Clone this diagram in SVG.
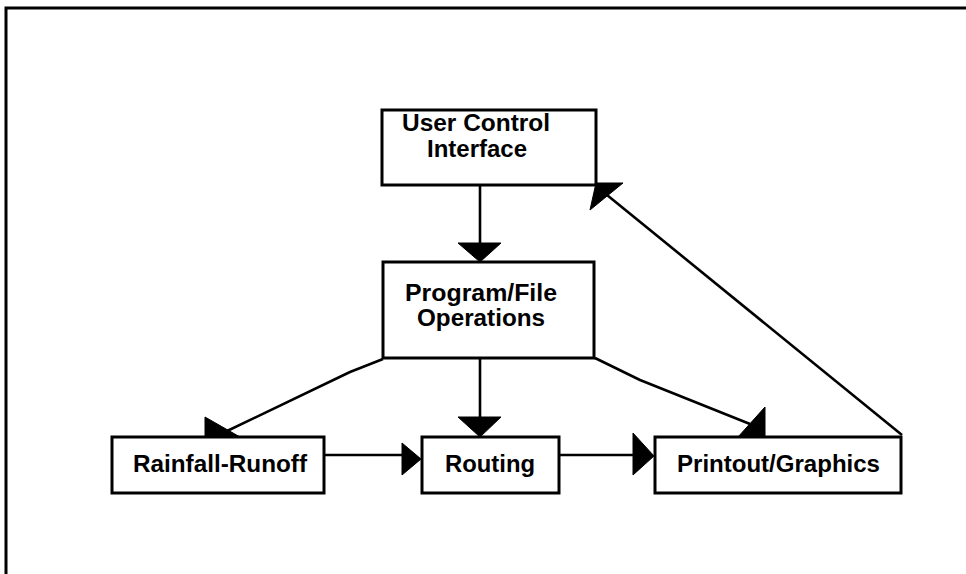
<svg xmlns="http://www.w3.org/2000/svg" width="966" height="574" viewBox="0 0 966 574">
<style>
.box{fill:#fff;stroke:#000;stroke-width:3}
.ln{fill:none;stroke:#000;stroke-width:2.6;stroke-linejoin:round}
.ah{fill:#000;stroke:#000;stroke-width:1}
text{font-family:"Liberation Sans",Arial,sans-serif;font-size:23px;font-weight:bold;fill:#000}
</style>
<rect width="966" height="574" fill="#fff"/>
<path d="M6,574 L6,8 L966,8" fill="none" stroke="#000" stroke-width="3"/>
<g id="connectors">
<line class="ln" x1="480" y1="185" x2="480" y2="244"/>
<polygon class="ah" points="458,243 501,243 480,262"/>
<polyline class="ln" points="383,359 350,372 225,432"/>
<polygon class="ah" points="205,417 205,437 240,437"/>
<line class="ln" x1="480" y1="359" x2="480" y2="418"/>
<polygon class="ah" points="458,417 501,417 480,437"/>
<polyline class="ln" points="595,358 640,380 750,424"/>
<polygon class="ah" points="738,437 765,407 765,437"/>
<line class="ln" x1="324" y1="455" x2="404" y2="455"/>
<polygon class="ah" points="402,443 402,475 421,459"/>
<line class="ln" x1="560" y1="455" x2="635" y2="455"/>
<polygon class="ah" points="633,433 633,475 654,456"/>
<line class="ln" x1="902" y1="435" x2="607" y2="195"/>
<polygon class="ah" points="590,210 596,183 623,183"/>
</g>
<g id="user-control-interface">
<rect class="box" x="382" y="110" width="214" height="75"/>
<text x="402" y="131" textLength="148" lengthAdjust="spacingAndGlyphs">User Control</text>
<text x="427" y="157" textLength="100" lengthAdjust="spacingAndGlyphs">Interface</text>
</g>
<g id="program-file-operations">
<rect class="box" x="383" y="262" width="211" height="96"/>
<text x="405" y="301" textLength="152" lengthAdjust="spacingAndGlyphs">Program/File</text>
<text x="417" y="326" textLength="128" lengthAdjust="spacingAndGlyphs">Operations</text>
</g>
<g id="rainfall-runoff">
<rect class="box" x="112" y="437" width="212" height="56"/>
<text x="133" y="472" textLength="174" lengthAdjust="spacingAndGlyphs">Rainfall-Runoff</text>
</g>
<g id="routing">
<rect class="box" x="422" y="437" width="137" height="56"/>
<text x="445" y="472" textLength="90" lengthAdjust="spacingAndGlyphs">Routing</text>
</g>
<g id="printout-graphics">
<rect class="box" x="655" y="437" width="246" height="56"/>
<text x="677" y="472" textLength="203" lengthAdjust="spacingAndGlyphs">Printout/Graphics</text>
</g>
</svg>
